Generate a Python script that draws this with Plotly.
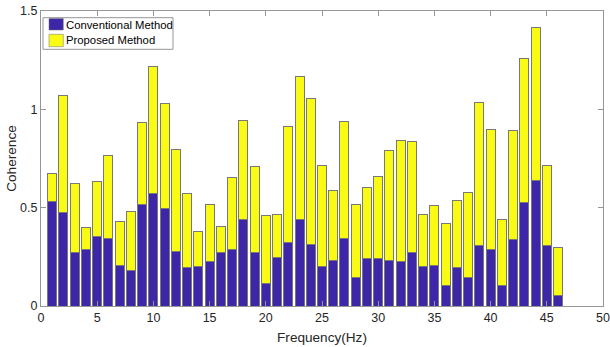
import plotly.graph_objects as go

freq = list(range(1, 47))
conventional = [0.530, 0.475, 0.273, 0.285, 0.353, 0.342, 0.208, 0.178, 0.514, 0.573,
                0.495, 0.278, 0.195, 0.200, 0.224, 0.273, 0.288, 0.441, 0.273, 0.115,
                0.249, 0.324, 0.441, 0.312, 0.200, 0.229, 0.342, 0.147, 0.244, 0.241,
                0.232, 0.224, 0.271, 0.203, 0.207, 0.102, 0.198, 0.146, 0.307, 0.288,
                0.102, 0.336, 0.525, 0.636, 0.307, 0.054]
total = [0.675, 1.069, 0.624, 0.398, 0.634, 0.766, 0.431, 0.481, 0.932, 1.219,
         1.029, 0.797, 0.571, 0.380, 0.514, 0.405, 0.654, 0.942, 0.708, 0.459,
         0.466, 0.912, 1.168, 1.056, 0.715, 0.588, 0.939, 0.517, 0.603, 0.659,
         0.792, 0.842, 0.834, 0.466, 0.510, 0.420, 0.536, 0.578, 1.036, 0.897,
         0.442, 0.893, 1.259, 1.417, 0.715, 0.298]
proposed = [round(t - c, 3) for t, c in zip(total, conventional)]

series_names = ["Conventional Method", "Proposed Method"]
series_colors = ["rgb(62,38,168)", "rgb(249,251,21)"]

x_ticks = [0, 5, 10, 15, 20, 25, 30, 35, 40, 45, 50]
y_ticks = [0, 0.5, 1, 1.5]
y_tick_labels = ["0", "0.5", "1", "1.5"]

# target plot area in page px: x 41..603, y 11..306 (body margin removed below)
W, H = 610, 347
L, T = 41, 11
PW, PH = 562, 295
R = W - L - PW
B = H - T - PH


def px(xp):  # page x -> paper
    return (xp - L) / PW


def py(yp):  # page y -> paper
    return (T + PH - yp) / PH


edge = dict(color="rgb(120,120,120)", width=1)
gray = "rgb(150,150,150)"
txt = "rgb(38,38,38)"

fig = go.Figure()
fig.add_trace(go.Bar(x=freq, y=conventional, name=series_names[0],
                     marker=dict(color=series_colors[0], line=edge), width=0.8))
fig.add_trace(go.Bar(x=freq, y=proposed, name=series_names[1],
                     marker=dict(color=series_colors[1], line=edge), width=0.8))

axis_common = dict(showline=True, linecolor=gray, linewidth=1, mirror="ticks",
                   ticks="inside", ticklen=5, tickcolor=gray, showgrid=False,
                   zeroline=False, automargin=False,
                   tickfont=dict(family="Liberation Sans, Arial", size=12.5, color=txt))

# custom legend box
shapes = [dict(type="rect", xref="paper", yref="paper", layer="above",
               x0=px(43), x1=px(173), y0=py(49.3), y1=py(17.7),
               line=dict(color=gray, width=1), fillcolor="white")]
sw_rows = [(18.6, 30.0, 25.0), (34.3, 46.7, 40.0)]
annotations = []
for (ya, yb, yc), name, col in zip(sw_rows, series_names, series_colors):
    shapes.append(dict(type="rect", xref="paper", yref="paper", layer="above",
                       x0=px(49), x1=px(63.3), y0=py(yb), y1=py(ya),
                       line=dict(color="rgb(110,110,110)", width=0.5), fillcolor=col))
    annotations.append(dict(xref="paper", yref="paper", x=px(64), y=py(yc),
                            xanchor="left", yanchor="middle", showarrow=False,
                            text=name, font=dict(family="Liberation Sans, Arial",
                                                 size=11.3, color="black")))

fig.update_layout(
    width=W, height=H,
    barmode="stack",
    showlegend=False,
    plot_bgcolor="white", paper_bgcolor="white",
    margin=dict(l=L, r=R, t=T, b=B),
    font=dict(family="Liberation Sans, Arial", size=12, color=txt),
    xaxis=dict(range=[0, 50], tickvals=x_ticks,
               title=dict(text="Frequency(Hz)", font=dict(size=13.6), standoff=8), **axis_common),
    yaxis=dict(range=[0, 1.5], tickvals=y_ticks, ticktext=y_tick_labels,
               title=dict(text="Coherence", font=dict(size=13.6), standoff=0), **axis_common),
    shapes=shapes,
    annotations=annotations,
    bargap=0.2,
)

fig.write_html("out.html", config={"displayModeBar": False},
               post_script="document.body.style.margin='0';document.body.style.overflow='hidden';")
